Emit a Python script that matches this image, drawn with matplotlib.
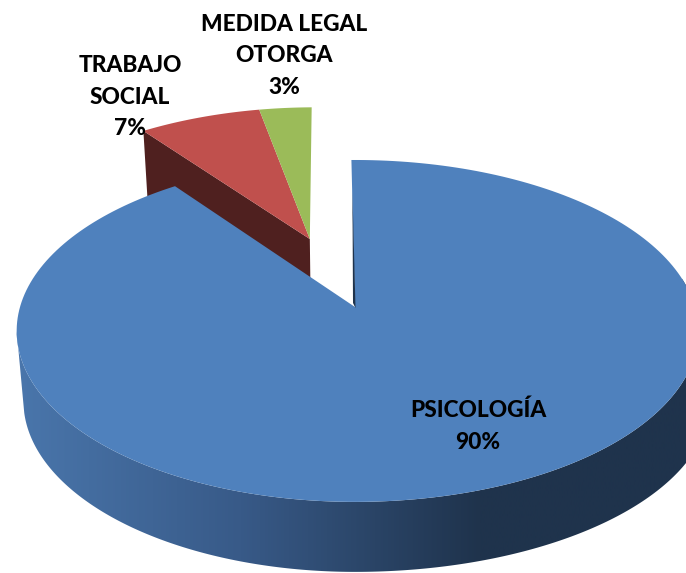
import numpy as np
import matplotlib
matplotlib.use("Agg")
import matplotlib.pyplot as plt
from matplotlib.colors import LinearSegmentedColormap
from matplotlib.patches import Polygon

# ── Data ────────────────────────────────────────────────────────────────
categories = ["PSICOLOGÍA", "TRABAJO\nSOCIAL", "MEDIDA LEGAL\nOTORGA"]
values     = [90, 7, 3]

# ── Look ────────────────────────────────────────────────────────────────
top_colors  = ["#4F81BD", "#C0504D", "#9BBB59"]
RED_WALL    = "#4F201F"
DARK_WALL   = "#1F334C"
label_pos   = [(478, 426), (130, 97), (284, 56)]
START_DEG   = -0.7
CX, CY      = 355, 307    # apex of the big slice, in pixels
RX, KY      = 335, 167.6  # projected radii
PERSP       = 0.14        # foreshortening towards the back
DEPTH       = 70          # wall height in pixels
X_TOP       = (1.0, 1.015)   # left / right stretch of the top rim
X_BOTTOM    = (0.98, 1.05)   # left / right stretch of the bottom rim
EXPLODE     = (-0.143, 0.43)  # shift of the two small slices

plt.rcParams["font.family"] = ["Lato", "DejaVu Sans"]


def project(u, v, bottom=False):
    u = np.asarray(u, dtype=float)
    d = 1 + PERSP * v
    left, right = X_BOTTOM if bottom else X_TOP
    xs = np.where(u > 0, right, left)
    return CX + xs * RX * u / d, CY + (DEPTH if bottom else 0) - KY * v / d


def rim(a0, a1, off=(0, 0), bottom=False):
    a = np.radians(np.linspace(a0, a1, 240))
    return project(np.sin(a) + off[0], np.cos(a) + off[1], bottom)


fig = plt.figure(figsize=(6.86, 5.73), dpi=100)
ax = fig.add_axes([0, 0, 1, 1])

spans = np.cumsum([0] + values) * 3.6 + START_DEG
a_blue = (spans[0], spans[1])
a_red = (spans[1], spans[2])
a_green = (spans[2], spans[3])

# ── Exploded slices ─────────────────────────────────────────────────────
ax_e, ay_e = project(*EXPLODE)
bx_e, by_e = project(*EXPLODE, bottom=True)
rx0, ry0 = rim(a_red[0], a_red[0], EXPLODE)
rx1, ry1 = rim(a_red[0], a_red[0], EXPLODE, bottom=True)
ax.fill([ax_e, rx0[0], rx1[0], bx_e], [ay_e, ry0[0], ry1[0], by_e],
        color=RED_WALL, lw=0, zorder=1)

for span, col in ((a_red, top_colors[1]), (a_green, top_colors[2])):
    x, y = rim(*span, EXPLODE)
    ax.fill(np.r_[ax_e, x], np.r_[ay_e, y], color=col, lw=0, zorder=2)

# ── Big slice wall, shaded left to right ────────────────────────────────
# bottom rim stops early so the left side closes with a straight edge
tx, ty = rim(80, 262)
bx, by = rim(80, 258, bottom=True)
wall = Polygon(np.c_[np.r_[tx, bx[::-1]], np.r_[ty, by[::-1]]],
               transform=ax.transData, fc="none", ec="none")
ax.add_patch(wall)
shade = LinearSegmentedColormap.from_list(
    "wall", [(0, "#4B78AE"), (0.35, "#385A88"), (0.7, DARK_WALL), (1, DARK_WALL)])
im = ax.imshow(np.linspace(0, 1, 512)[None, :], cmap=shade, aspect="auto",
               extent=(0, 686, 573, 0), zorder=3)
im.set_clip_path(wall)

# ── Big slice top ───────────────────────────────────────────────────────
x, y = rim(*a_blue)
ax.fill(np.r_[CX, x], np.r_[CY, y], color=top_colors[0], lw=0, zorder=4)
# sliver of the cut face, seen almost edge on
ax.fill([x[0] + 1.0, CX + 0.5, CX - 2.0], [y[0] + 30, CY + 1, CY - 4],
        color=DARK_WALL, lw=0, zorder=5)

# ── Labels ──────────────────────────────────────────────────────────────
for name, val, (lx, ly) in zip(categories, values, label_pos):
    ax.text(lx, ly, f"{name}\n{val}%", ha="center", va="center", color="black",
            fontsize=16.3, fontweight="black", linespacing=1.62, zorder=6)

ax.set_xlim(0, 686)
ax.set_ylim(573, 0)
ax.axis("off")
fig.savefig("out.png", dpi=100)
